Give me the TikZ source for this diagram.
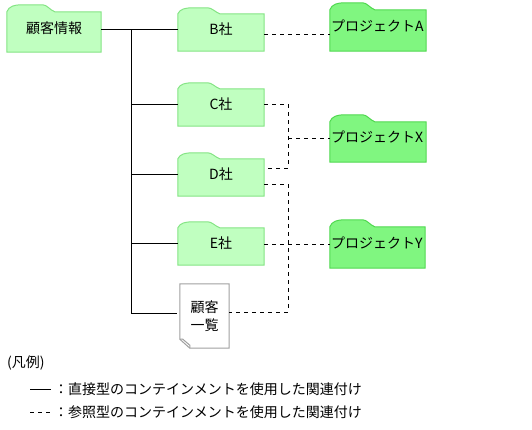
\documentclass[tikz,border=0pt]{standalone}
\usepackage{fontspec}
\setmainfont{Noto Sans CJK JP}
\usetikzlibrary{calc}
\pgfdeclarelayer{background}
\pgfsetlayers{background,main}

\definecolor{lfill}{HTML}{C0FFC0}
\definecolor{ldraw}{HTML}{84E484}
\definecolor{dfill}{HTML}{80F680}
\definecolor{ddraw}{HTML}{50D850}
\definecolor{docdraw}{HTML}{A0A0A0}

\tikzset{
  lbox/.style={rectangle, draw=none, inner sep=0pt, minimum width=86pt, minimum height=37pt},
  dbox/.style={rectangle, draw=none, inner sep=0pt, minimum width=96pt, minimum height=41pt},
  docbox/.style={rectangle, draw=none, inner sep=0pt, minimum width=49pt, minimum height=64pt, align=center},
  lfold/.style={fill=lfill, draw=ldraw, line width=1pt},
  dfold/.style={fill=dfill, draw=ddraw, line width=1pt},
  docline/.style={draw=docdraw, line width=1pt},
  direct/.style={draw=black, line width=1pt},
  refline/.style={draw=black, line width=1pt, dash pattern=on 4pt off 4pt},
  ctext/.style={yshift=3.5pt, inner sep=0pt},
  ptext/.style={anchor=west, yshift=5pt, inner sep=1pt},
  legtext/.style={anchor=west, inner sep=0pt}
}

% #1 node name, #2 style, #3 bump width, #4 bump height
\newcommand\folderpath[4]{%
  \begin{pgfonlayer}{background}
  \path[#2] (#1.south west) -- (#1.north west)
    .. controls +(2,{-0.8*#4}) and +(-6,0) .. ++(14,{-#4})
    -- ++({#3-26},0)
    .. controls +(4,0) and +(-5,-2) .. ++(12,#4)
    -- (#1.north east) -- (#1.south east) -- cycle;
  \end{pgfonlayer}}

\begin{document}
\begin{tikzpicture}[x=1pt, y=-1pt, font=\fontsize{14pt}{18pt}\selectfont]
\useasboundingbox (0,0) rectangle (532,429);

% folders (customer info)
\node[lbox, minimum width=94pt, minimum height=40pt, label={[ctext]center:顧客情報}] (cust) at (54,32) {};
\node[lbox, label={[ctext]center:B社}] (B) at (221,32.5) {};
\node[lbox, label={[ctext]center:C社}] (C) at (221,107.5) {};
\node[lbox, label={[ctext]center:D社}] (D) at (221,177.5) {};
\node[lbox, label={[ctext]center:E社}] (E) at (221,246.5) {};

% projects
\node[dbox, label={[ptext]west:プロジェクトA}] (PA) at (378,30.5) {};
\node[dbox, minimum height=40pt, label={[ptext]west:プロジェクトX}] (PX) at (378,142) {};
\node[dbox, minimum width=95pt, label={[ptext]west:プロジェクトY}] (PY) at (377.5,247.5) {};

% document
\node[docbox] (doc) at (204.5,316) {顧客\\一覧};

\folderpath{cust}{lfold}{48}{7}
\folderpath{B}{lfold}{42}{6}
\folderpath{C}{lfold}{42}{6}
\folderpath{D}{lfold}{42}{6}
\folderpath{E}{lfold}{42}{6}
\folderpath{PA}{dfold}{45}{7}
\folderpath{PX}{dfold}{45}{7}
\folderpath{PY}{dfold}{45}{7}

\begin{pgfonlayer}{background}
  \path[docline, fill=white] (doc.north west) -- (doc.north east) -- (doc.south east)
    -- ([xshift=10pt]doc.south west) -- ([yshift=9pt]doc.south west) -- cycle;
  \path[docline] ([yshift=9pt]doc.south west) -- ([xshift=3pt,yshift=9pt]doc.south west)
    -- ([xshift=10pt,yshift=3pt]doc.south west) -- ([xshift=10pt]doc.south west);
\end{pgfonlayer}

% direct (solid) connectors
\coordinate (t0) at (131,29);
\coordinate (cK) at ([yshift=3pt]cust.east);
\coordinate (cB) at ([yshift=3.5pt]B.west);
\coordinate (cC) at ([yshift=3.5pt]C.west);
\coordinate (cD) at ([yshift=3.5pt]D.west);
\coordinate (cE) at ([yshift=3.5pt]E.west);
\coordinate (cdoc) at ([xshift=-3pt,yshift=3pt]doc.west);
\draw[direct] (cK) -- (cB);
\draw[direct] (t0) -- (t0 |- cdoc) -- (cdoc);
\draw[direct] (cC -| t0) -- (cC);
\draw[direct] (cD -| t0) -- (cD);
\draw[direct] (cE -| t0) -- (cE);

% reference (dashed) connectors
\coordinate (vx) at (288,0);
\coordinate (rB) at ([yshift=-1.5pt]B.east);
\coordinate (rC) at ([yshift=3.5pt]C.east);
\coordinate (rD1) at ([yshift=9.5pt]D.east);
\coordinate (rD2) at ([yshift=-6.5pt]D.east);
\coordinate (rE) at ([yshift=2.5pt]E.east);
\coordinate (rX) at ([yshift=4pt]PX.west);
\coordinate (rdoc) at ([yshift=4pt]doc.east);
\draw[refline] (rB) -- (rB -| PA.west);
\draw[refline] (rC) -- (rC -| vx) -- (rD1 -| vx) -- (rD1);
\draw[refline] (rX -| vx) -- (rX);
\draw[refline] (rD2) -- (rD2 -| vx) -- (rdoc -| vx) -- (rdoc);
\draw[refline] (rE) -- (rE -| PY.west);

% legend
\node[legtext] (leg0) at (7,363) {(凡例)};
\node[legtext] (leg1) at (54,389) {：直接型のコンテインメントを使用した関連付け};
\node[legtext] (leg2) at (54,412) {：参照型のコンテインメントを使用した関連付け};
\coordinate (s1) at (30,389);
\coordinate (s2) at (30,412);
\draw[direct] (s1) -- ++(21,0);
\draw[refline] (s2) -- ++(21,0);
\end{tikzpicture}
\end{document}
